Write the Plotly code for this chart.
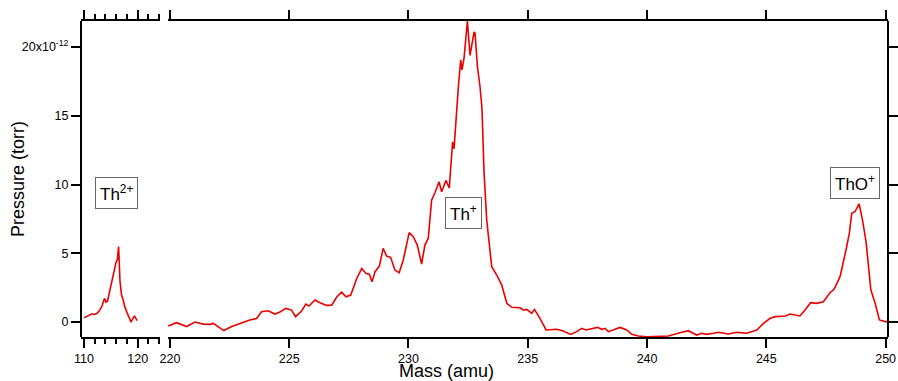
import plotly.graph_objects as go

# ---- data (pressure in units of 1e-12 torr) ----
mass_th2 = [110.0, 110.5, 111.0, 111.5, 112.0, 112.5, 113.0, 113.4, 113.8, 114.1, 114.4, 114.8,
            115.1, 115.4, 115.6, 115.8, 116.0, 116.2, 116.45, 116.7, 117.0, 117.3, 117.6, 118.0,
            118.3, 118.75, 119.1, 119.4, 119.9]
press_th2 = [0.3, 0.4, 0.55, 0.6, 0.55, 0.65, 0.9, 1.2, 1.72, 1.45, 1.55, 2.3,
             2.9, 3.5, 3.9, 4.1, 4.4, 4.5, 5.48, 3.0, 1.96, 1.6, 1.1, 0.7,
             0.4, 0.0, 0.25, 0.45, 0.1]

mass_main = [219.93, 220.28, 220.7, 221.05, 221.4, 221.68, 221.82, 222.03, 222.26, 222.59, 223.0,
             223.35, 223.63, 223.84, 224.12, 224.4, 224.61, 224.86, 225.1, 225.27, 225.52, 225.7,
             225.83, 226.08, 226.29, 226.57, 226.78, 227.0, 227.2, 227.38, 227.58, 227.83, 228.04,
             228.22, 228.36, 228.47, 228.6, 228.78, 228.94, 229.08, 229.25, 229.43, 229.61, 229.78,
             230.03, 230.2, 230.37, 230.55, 230.69, 230.83, 230.97, 231.11, 231.28, 231.39, 231.57,
             231.71, 231.85, 231.91, 232.09, 232.19, 232.24, 232.33, 232.47, 232.58, 232.75, 232.79,
             232.89, 233.0, 233.08, 233.17, 233.28, 233.49, 233.7, 233.91, 234.12, 234.33, 234.68,
             234.82, 234.96, 235.17, 235.28, 235.51, 235.77, 236.21, 236.49, 236.8, 237.05, 237.26,
             237.44, 237.68, 237.92, 238.1, 238.24, 238.38, 238.59, 238.87, 239.15, 239.36, 239.64,
             239.99, 240.89, 241.1, 241.38, 241.73, 242.08, 242.29, 242.5, 242.78, 242.99, 243.41,
             243.76, 244.18, 244.6, 244.88, 245.16, 245.37, 245.79, 246.0, 246.41, 246.62, 246.86,
             247.11, 247.39, 247.67, 247.84, 248.09, 248.23, 248.34, 248.48, 248.58, 248.72, 248.89,
             249.03, 249.18, 249.38, 249.56, 249.74, 249.98, 250.1]
press_main = [-0.29, -0.05, -0.33, 0.0, -0.15, -0.17, -0.1, -0.33, -0.62, -0.33, -0.05,
              0.14, 0.26, 0.75, 0.82, 0.58, 0.73, 0.99, 0.87, 0.39, 0.8, 1.31,
              1.16, 1.6, 1.4, 1.21, 1.23, 1.84, 2.17, 1.84, 1.96, 3.17, 3.9,
              3.53, 3.48, 2.93, 3.66, 4.07, 5.36, 4.8, 4.71, 3.78, 3.59, 4.51,
              6.5, 6.21, 5.6, 4.22, 5.6, 6.1, 8.87, 9.4, 10.2, 9.48, 10.3,
              9.75, 13.1, 12.6, 17.1, 19.07, 18.35, 19.2, 21.9, 19.4, 21.1, 21.0,
              18.6, 17.1, 15.55, 10.8, 7.4, 4.03, 3.42, 2.69, 1.36, 1.07, 1.04,
              0.87, 0.92, 0.63, 0.92, 0.27, -0.58, -0.53, -0.65, -0.9, -0.7, -0.46,
              -0.58, -0.51, -0.39, -0.53, -0.46, -0.7, -0.58, -0.39, -0.58, -0.9, -1.02,
              -1.07, -1.02, -0.9, -0.78, -0.63, -0.95, -0.82, -0.9, -0.82, -0.75, -0.87,
              -0.75, -0.82, -0.58, -0.1, 0.27, 0.39, 0.44, 0.58, 0.44, 0.87, 1.41,
              1.36, 1.48, 2.13, 2.38, 3.3, 4.27, 5.24, 6.46, 7.91, 8.04, 8.59,
              7.43, 5.85, 2.34, 1.36, 0.15, 0.03, 0.03]

y_tickvals = [0, 5, 10, 15, 20]
y_ticktext = ["0", "5", "10", "15", "20x10<sup>-12</sup>"]
x1_tickvals = [110, 120]
x2_tickvals = [220, 225, 230, 235, 240, 245, 250]

labels = [("Th<sup>2+</sup>", "x", 116.1, 9.4),
          ("Th<sup>+</sup>", "x2", 232.3, 7.9),
          ("ThO<sup>+</sup>", "x2", 248.7, 10.1)]

FONT = "Liberation Sans, Arial, sans-serif"
RED = "rgb(235,0,0)"

fig = go.Figure()
fig.add_trace(go.Scatter(x=mass_th2, y=press_th2, mode="lines", xaxis="x", yaxis="y",
                         line=dict(color=RED, width=1.6), showlegend=False))
fig.add_trace(go.Scatter(x=mass_main, y=press_main, mode="lines", xaxis="x2", yaxis="y",
                         line=dict(color=RED, width=1.6), showlegend=False))
# helper trace so the right-hand mirror axis is drawn
fig.add_trace(go.Scatter(x=[None], y=[None], xaxis="x2", yaxis="y2", showlegend=False,
                         hoverinfo="skip"))

axis_common = dict(showline=True, linecolor="black", linewidth=2, ticks="outside",
                   tickcolor="black", tickwidth=1.5, showgrid=False, zeroline=False,
                   tickfont=dict(family=FONT, size=12.5, color="black"))

yr = [-1.09, 21.9]
x1_dom = [0, 79 / 807]
x2_dom = [87 / 807, 1]

fig.update_layout(
    width=898, height=381,
    margin=dict(l=81, r=10, t=21, b=44, autoexpand=False),
    plot_bgcolor="white", paper_bgcolor="white",
    font=dict(family=FONT, color="black"),
    xaxis=dict(domain=x1_dom, range=[109.45, 124.15], anchor="y", mirror="ticks",
               tickvals=x1_tickvals, ticklen=9,
               minor=dict(dtick=2, tick0=110, ticks="outside", ticklen=5, tickwidth=1.5,
                          tickcolor="black", showgrid=False),
               **axis_common),
    xaxis2=dict(domain=x2_dom, range=[219.92, 250.1], anchor="y", mirror="ticks",
                tickvals=x2_tickvals, ticklen=9, **axis_common),
    yaxis=dict(range=yr, anchor="free", position=0, tickvals=y_tickvals, ticktext=y_ticktext,
               ticklen=9, **axis_common),
    yaxis2=dict(range=yr, anchor="free", position=1, overlaying="y", side="right",
                tickvals=y_tickvals, showticklabels=False, ticklen=9, **axis_common),
)

for text, xr, xv, yv in labels:
    fig.add_annotation(text=text, x=xv, y=yv, xref=xr, yref="y", showarrow=False,
                       font=dict(family=FONT, size=17, color="black"),
                       bordercolor="#666666", borderwidth=1, borderpad=4, bgcolor="white")

fig.add_annotation(text="Mass (amu)", x=(446 - 81) / 807, y=(337 - 371) / 316,
                   xref="paper", yref="paper", showarrow=False, xanchor="center",
                   yanchor="middle", font=dict(family=FONT, size=18, color="black"))
fig.add_annotation(text="Pressure (torr)", x=(18 - 81) / 807, y=0.5,
                   xref="paper", yref="paper", showarrow=False, textangle=-90,
                   xanchor="center", yanchor="middle",
                   font=dict(family=FONT, size=18, color="black"))

fig.write_html("out.html")
